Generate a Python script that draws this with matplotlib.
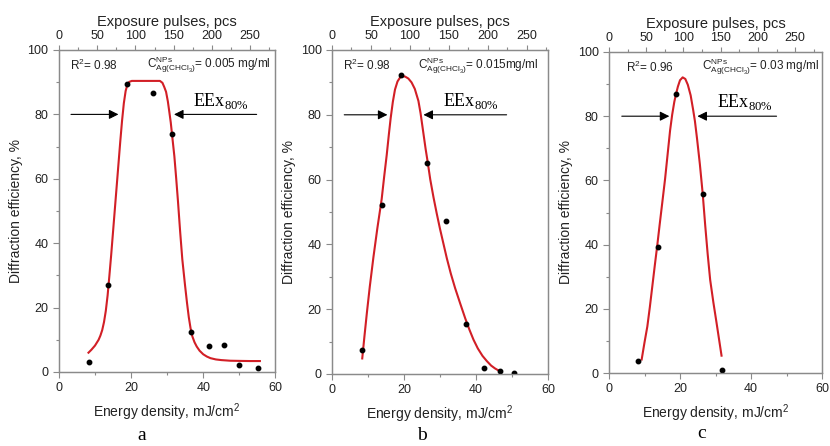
import matplotlib
matplotlib.use("Agg")
import matplotlib.pyplot as plt
from matplotlib.ticker import MultipleLocator

plt.rcParams['font.family'] = ['Liberation Sans', 'DejaVu Sans']
plt.rcParams['mathtext.fontset'] = 'custom'
plt.rcParams['mathtext.rm'] = 'Liberation Sans'
plt.rcParams['mathtext.it'] = 'Liberation Sans'

# ---- data: panel a (0.005 mg/ml) ----
a_pts_x = [8.3, 13.7, 18.8, 26.0, 31.35, 36.6, 41.7, 45.8, 50.0, 55.3]
a_pts_y = [3.0, 27.0, 89.3, 86.8, 73.8, 12.3, 8.2, 8.4, 2.2, 1.2]
a_fit_x = [8.2, 9.0, 10.0, 11.0, 11.5, 12.0, 12.5, 13.0, 13.5, 14.0, 14.5, 15.0,
           15.5, 16.0, 16.5, 17.0, 17.5, 18.0, 18.5, 19.0, 19.5, 20.2, 24.0, 28.0,
           28.7, 29.2, 29.7, 30.2, 30.6, 31.0, 31.35, 32.0, 32.5, 33.0, 33.6, 34.2,
           34.95, 35.5, 36.0, 36.5, 37.0, 37.6, 38.2, 39.0, 40.0, 41.0, 42.0, 43.5,
           45.0, 47.5, 50.0, 53.0, 55.7]
a_fit_y = [6.0, 6.9, 8.2, 10.0, 11.3, 13.0, 15.5, 19.0, 23.8, 30.0, 36.5, 43.5,
           50.5, 57.5, 64.5, 71.5, 78.0, 83.5, 87.3, 89.3, 90.1, 90.4, 90.4, 90.4,
           89.8, 88.5, 87.0, 84.0, 80.8, 77.5, 73.8, 67.0, 60.2, 53.0, 43.6, 35.0,
           27.0, 21.5, 17.0, 13.5, 11.0, 9.2, 7.9, 6.6, 5.5, 4.8, 4.3, 3.9,
           3.7, 3.5, 3.45, 3.4, 3.4]

# ---- data: panel b (0.015 mg/ml) ----
b_pts_x = [8.4, 13.8, 19.1, 26.5, 31.7, 37.2, 42.2, 46.6, 50.6]
b_pts_y = [7.4, 52.2, 92.3, 65.0, 47.2, 15.5, 1.9, 1.0, 0.4]
b_fit_x = [8.4, 9.0, 9.7, 10.5, 11.5, 12.6, 13.8, 14.5, 15.2, 15.8, 16.3, 16.9,
           17.5, 18.2, 18.9, 19.6, 20.3, 21.2, 22.1, 23.0, 24.0, 24.6, 25.3, 26.0,
           26.5, 27.3, 28.2, 29.1, 30.0, 31.0, 31.9, 33.0, 34.2, 35.6, 37.0, 38.2,
           39.3, 40.5, 41.8, 43.0, 44.2, 45.3, 46.4]
b_fit_y = [4.8, 11.5, 19.0, 27.0, 36.0, 45.0, 54.0, 61.0, 67.6, 74.0, 79.0, 84.0,
           87.8, 90.3, 91.5, 91.9, 91.8, 91.2, 90.0, 88.0, 84.3, 80.5, 75.0, 69.5,
           66.0, 60.0, 54.5, 49.5, 44.8, 40.0, 35.7, 31.0, 26.5, 21.8, 17.2, 13.6,
           10.6, 7.9, 5.6, 4.0, 2.6, 1.7, 1.0]

# ---- data: panel c (0.03 mg/ml) ----
c_pts_x = [8.25, 13.7, 18.9, 26.4, 31.7]
c_pts_y = [3.6, 39.2, 86.9, 55.8, 0.8]
c_fit_x = [9.2, 10.0, 10.8, 11.5, 12.2, 12.9, 13.6, 14.3, 15.0, 15.8, 16.5, 17.2,
           17.8, 18.4, 18.9, 19.4, 20.0, 20.75, 21.5, 22.2, 23.0, 23.7, 24.2, 24.8,
           25.6, 26.4, 27.1, 27.8, 28.5, 29.4, 30.3, 31.0, 31.7]
c_fit_y = [4.2, 9.5, 14.5, 20.5, 27.0, 33.5, 39.8, 46.5, 53.0, 60.5, 68.0, 75.5,
           80.5, 84.5, 87.0, 89.2, 91.2, 92.1, 91.6, 89.8, 86.5, 82.0, 78.5, 73.0,
           65.0, 55.8, 46.0, 37.0, 29.0, 22.0, 15.6, 10.5, 5.4]

r2_labels = ["R$^2$= 0.98", "R$^2$= 0.98", "R$^2$= 0.96"]
conc_labels = ["= 0.005 mg/ml", "= 0.015mg/ml", "= 0.03 mg/ml"]
panel_letters = ["a", "b", "c"]
pulses_max = [283, 277, 286]
# arrow geometry (energy density units): left tail, left tip, right tip, right tail, text x
arrow_left_tail = [3.35, 3.4, 3.6]
arrow_left_tip = [16.5, 15.4, 17.0]
arrow_right_tip = [31.9, 25.4, 24.9]
arrow_right_tail = [54.8, 48.5, 47.2]
eex_text_x = [37.2, 30.9, 30.4]
r2_x = [3.1, 3.1, 4.9]
conc_x = [24.3, 24.0, 26.1]

pts_x = [a_pts_x, b_pts_x, c_pts_x]
pts_y = [a_pts_y, b_pts_y, c_pts_y]
fit_x = [a_fit_x, b_fit_x, c_fit_x]
fit_y = [a_fit_y, b_fit_y, c_fit_y]

W, H = 830, 446
fig = plt.figure(figsize=(W / 100, H / 100), dpi=100)
boxes = [(58.9, 275.4, 50, 372), (332, 548, 50, 374), (609, 822, 52, 373)]
letter_pos = [(141.7, 435), (421.7, 435), (701.7, 433)]
spine_col = '#8a8a8a'
txt_col = '#222222'
red = '#d21f26'

for i, (x0, x1, yt, yb) in enumerate(boxes):
    ax = fig.add_axes([x0 / W, (H - yb) / H, (x1 - x0) / W, (yb - yt) / H])
    ax.plot(fit_x[i], fit_y[i], color=red, lw=1.5, zorder=2, solid_joinstyle='round')
    ax.plot(pts_x[i], pts_y[i], 'o', color='black', ms=3.2, zorder=3)
    ax.set_xlim(0, 60)
    ax.set_ylim(0, 100)
    ax.xaxis.set_major_locator(MultipleLocator(20))
    ax.xaxis.set_minor_locator(MultipleLocator(10))
    ax.yaxis.set_major_locator(MultipleLocator(20))
    ax.yaxis.set_minor_locator(MultipleLocator(10))
    for s in ax.spines.values():
        s.set_color(spine_col)
        s.set_linewidth(0.9)
    ax.tick_params(which='both', direction='out', color=spine_col, labelsize=9,
                   labelcolor=txt_col, top=False, right=False)
    ax.tick_params(which='major', length=4, width=0.8)
    ax.tick_params(which='minor', length=2.5, width=0.8)
    ax.set_xlabel('Energy density, mJ/cm$^2$', fontsize=10, labelpad=5, color=txt_col)
    ax.set_ylabel('Diffraction efficiency, %', fontsize=10, labelpad=3, color=txt_col)

    ax2 = ax.twiny()
    ax2.set_xlim(0, pulses_max[i])
    ax2.xaxis.set_major_locator(MultipleLocator(50))
    ax2.xaxis.set_minor_locator(MultipleLocator(25))
    ax2.tick_params(which='both', direction='out', color=spine_col, labelsize=9,
                    labelcolor=txt_col, pad=2)
    ax2.tick_params(which='major', length=3.5, width=0.8)
    ax2.tick_params(which='minor', length=2, width=0.8)
    for s in ax2.spines.values():
        s.set_color(spine_col)
        s.set_linewidth(0.9)
    ax2.set_xlabel('Exposure pulses, pcs', fontsize=10.5, labelpad=3, color=txt_col)

    # annotations
    ax.text(r2_x[i], 95.3, r2_labels[i], fontsize=8.5, va='center', ha='left', color=txt_col)
    ax.text(conc_x[i], 95.3,
            r'C$^{\mathregular{NPs}}_{\mathregular{Ag(CHCl_3)}}$' + conc_labels[i],
            fontsize=8.5, va='center', ha='left', color=txt_col)
    ax.annotate('', xy=(arrow_left_tip[i], 80), xytext=(arrow_left_tail[i], 80),
                arrowprops=dict(arrowstyle='-|>', color='black', lw=0.8,
                                mutation_scale=14, shrinkA=0, shrinkB=0))
    ax.annotate('', xy=(arrow_right_tip[i], 80), xytext=(arrow_right_tail[i], 80),
                arrowprops=dict(arrowstyle='-|>', color='black', lw=0.8,
                                mutation_scale=14, shrinkA=0, shrinkB=0))
    ax.text(eex_text_x[i], 81.2, r'EEx$_{\mathregular{80\%}}$', fontsize=13,
            family='Liberation Serif', va='bottom', ha='left')
    lx, ly = letter_pos[i]
    fig.text(lx / W, 1 - ly / H, panel_letters[i], fontsize=14,
             family='Liberation Serif', ha='center', va='center')

fig.savefig('out.png', dpi=100)
